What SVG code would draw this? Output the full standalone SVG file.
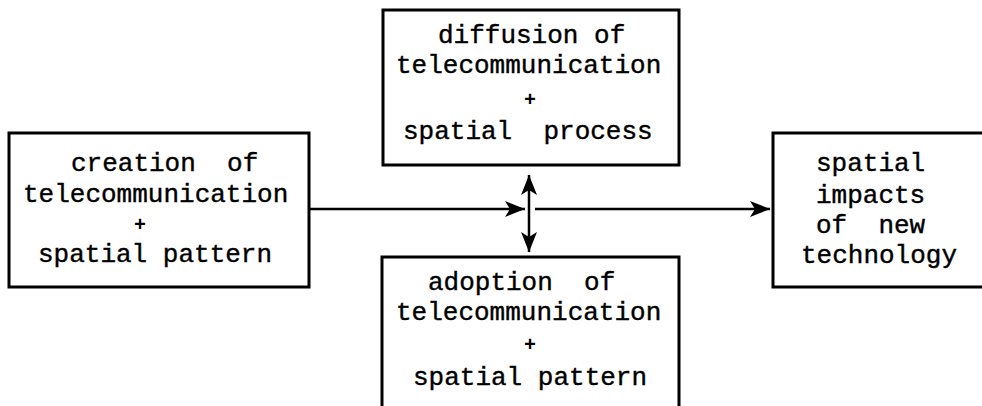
<svg xmlns="http://www.w3.org/2000/svg" width="982" height="406" viewBox="0 0 982 406">
  <style>
    .box { fill: none; stroke: #000; stroke-width: 3; }
    .lbl { font-family: "Liberation Mono", "Courier New", monospace; font-size: 26px; fill: #000; stroke: #000; stroke-width: 0.4; white-space: pre; }
    .plus { font-family: "Liberation Mono", "Courier New", monospace; font-size: 20px; font-weight: bold; fill: #000; text-anchor: middle; }
    .conn { fill: none; stroke: #000; stroke-width: 2.5; }
  </style>
  <defs>
    <marker id="head" markerUnits="userSpaceOnUse" markerWidth="22" markerHeight="18" refX="20" refY="8" orient="auto-start-reverse">
      <path d="M0,0 L20,8 L0,16 L5,8 Z" fill="#000"/>
    </marker>
  </defs>
  <rect width="982" height="406" fill="#fff"/>

  <g id="creation">
    <rect class="box" x="9" y="133" width="300" height="154"/>
    <text class="lbl" x="71" y="171">creation  of</text>
    <text class="lbl" x="23" y="202">telecommunication</text>
    <text class="plus" x="140" y="231">+</text>
    <text class="lbl" x="38" y="262">spatial pattern</text>
  </g>

  <g id="diffusion">
    <rect class="box" x="383" y="10" width="296" height="155"/>
    <text class="lbl" x="438" y="43">diffusion of</text>
    <text class="lbl" x="396" y="73">telecommunication</text>
    <text class="plus" x="530" y="106">+</text>
    <text class="lbl" x="403" y="139">spatial  process</text>
  </g>

  <g id="adoption">
    <path class="box" d="M382,420 V257 H679 V420"/>
    <text class="lbl" x="428" y="290">adoption  of</text>
    <text class="lbl" x="396" y="320">telecommunication</text>
    <text class="plus" x="530" y="351">+</text>
    <text class="lbl" x="413" y="385">spatial pattern</text>
  </g>

  <g id="impacts">
    <path class="box" d="M990,133 H773 V287 H990"/>
    <text class="lbl" x="816" y="171">spatial</text>
    <text class="lbl" x="816" y="203">impacts</text>
    <text class="lbl" x="816" y="233">of  new</text>
    <text class="lbl" x="801" y="263">technology</text>
  </g>

  <g id="connectors">
    <line class="conn" x1="309" y1="209" x2="525" y2="209" marker-end="url(#head)"/>
    <line class="conn" x1="535" y1="209" x2="770" y2="209" marker-end="url(#head)"/>
    <line class="conn" x1="529" y1="175" x2="529" y2="252" marker-start="url(#head)" marker-end="url(#head)"/>
  </g>
</svg>
